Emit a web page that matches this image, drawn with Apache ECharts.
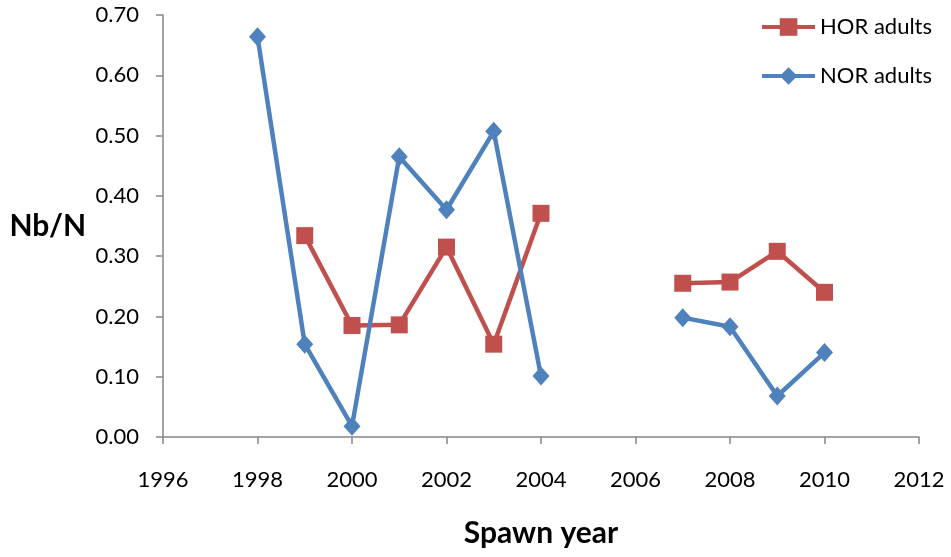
<!DOCTYPE html>
<html><head><meta charset="utf-8">
<script src="https://cdn.jsdelivr.net/npm/echarts@6/dist/echarts.min.js"></script>
<style>html,body{margin:0;padding:0;background:#fff}#c{width:951px;height:557px}</style>
</head><body><div id="c"></div>
<script>
var years = [1998, 1999, 2000, 2001, 2002, 2003, 2004, 2005, 2006, 2007, 2008, 2009, 2010];
var horValues = [null, 0.334, 0.185, 0.186, 0.315, 0.154, 0.371, null, null, 0.255, 0.257, 0.308, 0.240];
var norValues = [0.664, 0.154, 0.018, 0.465, 0.377, 0.507, 0.101, null, null, 0.198, 0.183, 0.068, 0.140];
var xTicks = [1996, 1998, 2000, 2002, 2004, 2006, 2008, 2010, 2012];
var yTicks = [0, 0.1, 0.2, 0.3, 0.4, 0.5, 0.6, 0.7];

function pairs(vals) {
  var out = [];
  years.forEach(function (y, i) {
    if (vals[i] === null) { if (out.length && out[out.length-1][1] !== '-') out.push([y, '-']); }
    else out.push([y, vals[i]]);
  });
  return out;
}
var FONT = 'Lato, "Open Sans", sans-serif';
var chart = echarts.init(document.getElementById('c'));
chart.setOption({
  animation: false,
  textStyle: { fontFamily: FONT },
  grid: { left: 163, right: 32, top: 15, bottom: 120, containLabel: false, outerBoundsMode: 'none' },
  legend: {
    orient: 'vertical', right: 14, top: 11,
    itemWidth: 53, itemHeight: 22, itemGap: 27,
    lineStyle: { width: 4 },
    textStyle: { fontSize: 22, color: '#000', fontFamily: FONT },
    data: ['HOR adults', 'NOR adults']
  },
  xAxis: {
    type: 'value', min: xTicks[0], max: xTicks[xTicks.length-1], interval: 2,
    name: 'Spawn year', nameLocation: 'middle', nameGap: 81,
    nameTextStyle: { fontSize: 30, fontWeight: 'bold', color: '#000', fontFamily: FONT },
    axisLine: { lineStyle: { color: '#868686', width: 1.5 } },
    axisTick: { show: true, length: 7, lineStyle: { color: '#868686', width: 1.5 } },
    axisLabel: { fontSize: 22, color: '#000', margin: 32, formatter: function (v) { return String(v); } },
    splitLine: { show: false }
  },
  yAxis: {
    type: 'value', min: yTicks[0], max: yTicks[yTicks.length-1], interval: 0.1,
    name: 'Nb/N', nameLocation: 'middle', nameGap: 77, nameRotate: 0,
    nameTextStyle: { fontSize: 30, fontWeight: 'bold', color: '#000', fontFamily: FONT },
    axisLine: { show: true, lineStyle: { color: '#868686', width: 1.5 } },
    axisTick: { show: true, length: 7, lineStyle: { color: '#868686', width: 1.5 } },
    axisLabel: { fontSize: 22, color: '#000', margin: 24, formatter: function (v) { return v.toFixed(2); } },
    splitLine: { show: false }
  },
  series: [
    { name: 'HOR adults', type: 'line', data: pairs(horValues), connectNulls: false,
      symbol: 'rect', symbolSize: 17, showAllSymbol: true,
      lineStyle: { color: '#C0504D', width: 4.5 }, itemStyle: { color: '#C0504D' }, z: 2 },
    { name: 'NOR adults', type: 'line', data: pairs(norValues), connectNulls: false,
      symbol: 'diamond', symbolSize: [17, 19], showAllSymbol: true,
      lineStyle: { color: '#4F81BD', width: 4.5 }, itemStyle: { color: '#4F81BD' }, z: 3 }
  ]
});
</script></body></html>
